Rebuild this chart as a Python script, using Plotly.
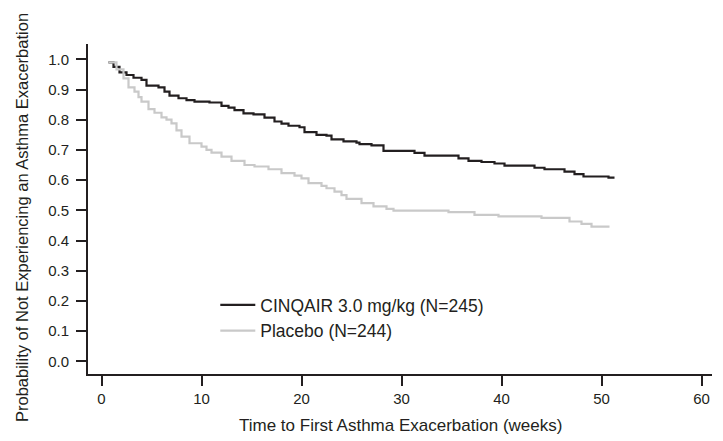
import plotly.graph_objects as go

# CINQAIR 3.0 mg/kg (N=245) Kaplan-Meier steps
cinqair_t = [0.7, 1.2, 1.8, 2.5, 3.2, 4.0, 4.5, 5.7, 6.3, 6.8, 7.7, 8.5, 9.3, 10.8, 12.0, 12.7,
             13.3, 14.2, 15.2, 16.3, 17.3, 18.0, 18.7, 19.8, 20.3, 21.5, 22.5, 23.0, 24.2, 25.5,
             25.8, 27.0, 28.2, 31.3, 32.3, 35.7, 36.7, 38.0, 39.3, 40.3, 43.3, 44.3, 46.3, 47.3,
             48.2, 50.7, 51.3]
cinqair_p = [0.99, 0.975, 0.957, 0.948, 0.939, 0.932, 0.913, 0.907, 0.893, 0.88, 0.871, 0.865,
             0.86, 0.857, 0.846, 0.84, 0.832, 0.821, 0.818, 0.807, 0.794, 0.787, 0.78, 0.775,
             0.759, 0.75, 0.747, 0.735, 0.728, 0.724, 0.719, 0.715, 0.697, 0.69, 0.681, 0.672,
             0.664, 0.66, 0.655, 0.648, 0.641, 0.636, 0.628, 0.62, 0.612, 0.608, 0.608]

# Placebo (N=244)
placebo_t = [0.7, 1.5, 2.2, 2.7, 3.3, 3.7, 4.0, 4.7, 5.3, 6.0, 6.5, 7.0, 7.5, 8.0, 8.8, 10.0,
             10.5, 11.0, 12.0, 13.0, 14.3, 15.3, 16.7, 18.0, 19.3, 20.0, 20.7, 22.0, 22.5, 23.3,
             24.0, 24.5, 26.0, 27.2, 28.5, 29.2, 34.7, 37.3, 39.7, 44.0, 46.8, 48.0, 49.0, 50.8]
placebo_p = [0.99, 0.967, 0.937, 0.907, 0.893, 0.875, 0.86, 0.835, 0.823, 0.808, 0.8, 0.788,
             0.765, 0.744, 0.722, 0.711, 0.7, 0.691, 0.678, 0.664, 0.65, 0.645, 0.636, 0.623,
             0.615, 0.606, 0.59, 0.581, 0.573, 0.562, 0.55, 0.538, 0.524, 0.513, 0.505, 0.499,
             0.494, 0.485, 0.48, 0.475, 0.463, 0.455, 0.446, 0.446]

x_ticks = [0, 10, 20, 30, 40, 50, 60]
y_ticks = [0.0, 0.1, 0.2, 0.3, 0.4, 0.5, 0.6, 0.7, 0.8, 0.9, 1.0]
y_tick_text = ["0.0", "0.1", "0.2", "0.3", "0.4", "0.5", "0.6", "0.7", "0.8", "0.9", "1.0"]

INK = "#231f20"
FONT = "Liberation Sans, Arial, sans-serif"

fig = go.Figure()
fig.add_trace(go.Scatter(x=cinqair_t, y=cinqair_p, mode="lines", line_shape="hv",
                         line=dict(color=INK, width=2.2), name="CINQAIR 3.0 mg/kg (N=245)"))
fig.add_trace(go.Scatter(x=placebo_t, y=placebo_p, mode="lines", line_shape="hv",
                         line=dict(color="#c9c9c9", width=2.2), name="Placebo (N=244)"))

fig.update_layout(
    width=723, height=441,
    margin=dict(l=88, r=11, t=44, b=67),
    paper_bgcolor="white", plot_bgcolor="white",
    font=dict(family=FONT, size=15, color=INK),
    showlegend=True,
    legend=dict(x=0.204, y=0.2636, xanchor="left", yanchor="top",
                bgcolor="rgba(0,0,0,0)", font=dict(size=17.5, color=INK),
                tracegroupgap=0, itemwidth=35),
    xaxis=dict(range=[-1.35, 61.05], tickvals=x_ticks, showline=True, linecolor=INK,
               linewidth=2, ticks="outside", ticklen=10, tickwidth=2, tickcolor=INK,
               showgrid=False, zeroline=False, automargin=False,
               tickfont=dict(size=15, color=INK)),
    yaxis=dict(range=[-0.042, 1.0507], tickvals=y_ticks, ticktext=y_tick_text, showline=True,
               linecolor=INK, linewidth=2, ticks="outside", ticklen=10, tickwidth=2,
               tickcolor=INK, showgrid=False, zeroline=False, automargin=False,
               ticklabelstandoff=4, tickfont=dict(size=15, color=INK)),
    annotations=[
        dict(text="Time to First Asthma Exacerbation (weeks)", xref="paper", yref="paper",
             x=0.5, y=(374 - 426) / 330, xanchor="center", yanchor="middle",
             showarrow=False, font=dict(size=17, color=INK)),
        dict(text="Probability of Not Experiencing an Asthma Exacerbation", xref="paper",
             yref="paper", x=(22 - 88) / 624, y=(374 - 218) / 330, xanchor="center",
             yanchor="middle", textangle=-90, showarrow=False,
             font=dict(size=16.5, color=INK)),
    ],
)

fig.write_html("out.html", config={"displayModeBar": False},
               post_script="document.body.style.margin='0';document.body.style.overflow='hidden';")
